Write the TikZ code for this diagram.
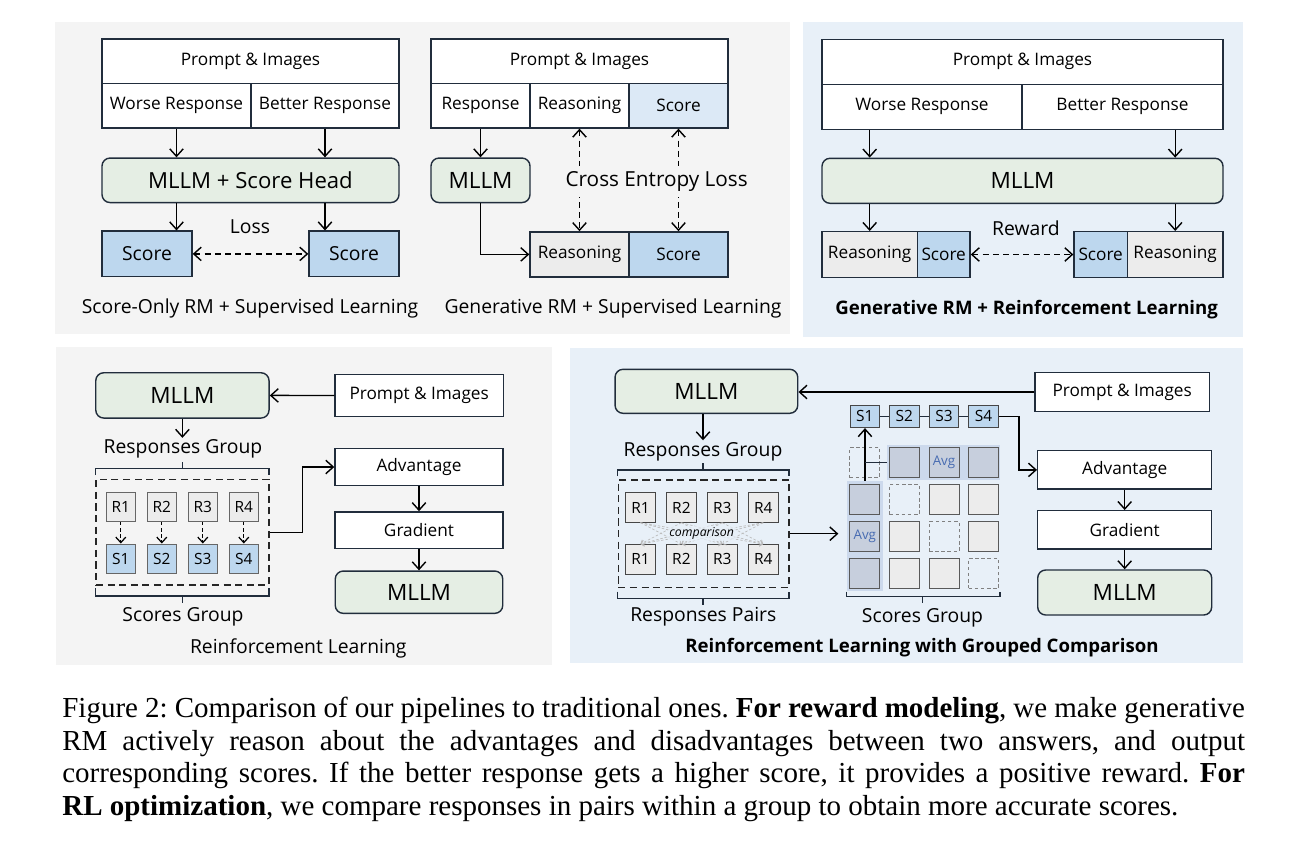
\documentclass[tikz,border=0pt]{standalone}
\usepackage{fontspec}
\setmainfont{Open Sans}
\newfontfamily\capfont{Liberation Serif}
\usetikzlibrary{arrows.meta}

\definecolor{panelgray}{RGB}{244,244,244}
\definecolor{panelblue}{RGB}{232,240,248}
\definecolor{boxline}{RGB}{33,45,60}
\definecolor{mllmgreen}{RGB}{229,238,228}
\definecolor{scoreblue}{RGB}{189,215,238}
\definecolor{scorelight}{RGB}{220,233,246}
\definecolor{reasongray}{RGB}{236,236,236}
\definecolor{bandblue}{RGB}{204,217,236}
\definecolor{cellblue}{RGB}{199,207,221}
\definecolor{avgblue}{RGB}{72,108,178}

\begin{document}
\begin{tikzpicture}[x=0.2mm, y=-0.2mm]
    % Define styles
    \tikzstyle{cell} = [rectangle, draw=boxline, line width=0.8pt, fill=white, inner sep=0pt, font=\fontsize{9.8}{11}\selectfont]
    \tikzstyle{model} = [rectangle, rounded corners=1.6mm, draw=boxline, line width=0.8pt, fill=mllmgreen, inner sep=0pt, font=\fontsize{12.8}{15}\selectfont]
    \tikzstyle{tag} = [inner sep=1pt, font=\fontsize{11}{13}\selectfont]
    \tikzstyle{heading} = [inner sep=0pt, font=\fontsize{11}{13}\selectfont]
    \tikzstyle{rbox} = [rectangle, draw=gray!80!black, line width=0.5pt, fill=reasongray, minimum width=5.9mm, minimum height=5.9mm, inner sep=0pt, font=\fontsize{8.8}{10}\selectfont]
    \tikzstyle{band} = [rectangle, fill=bandblue, inner sep=0pt]
    \tikzstyle{mcell} = [rectangle, draw=gray!70!black, line width=0.5pt, fill=reasongray, minimum size=6mm, inner sep=0pt]
    \tikzstyle{hcell} = [mcell, fill=cellblue]
    \tikzstyle{diag} = [mcell, dashed, dash pattern=on 2pt off 1.5pt, draw=gray, fill=none]
    \tikzstyle{avg} = [inner sep=0pt, text=avgblue, font=\fontsize{7.6}{9}\selectfont]
    \tikzstyle{arrow} = [line width=0.8pt, ->, >={Straight Barb[length=1.5mm, width=2.7mm]}]
    \tikzstyle{dasharrow} = [arrow, <->, dash pattern=on 3.4pt off 2.4pt]
    \tikzstyle{compare} = [gray!55, line width=0.35pt, dash pattern=on 1.5pt off 1pt, ->, >={Straight Barb[length=0.6mm, width=1.2mm]}]
    \tikzstyle{bracket} = [line width=0.85pt, draw=boxline]
    \tikzstyle{group} = [rectangle, draw=black!85, line width=0.9pt, dash pattern=on 4pt off 2.6pt, inner sep=0pt]

    \useasboundingbox (0,0) rectangle (1303,855);
    \fill[white] (0,0) rectangle (1303,855);

    % Panel backgrounds
    \fill[panelgray] (55,22) rectangle (790,334);
    \fill[panelblue] (803,22) rectangle (1243,337);
    \fill[panelgray] (56,347) rectangle (552,665);
    \fill[panelblue] (570,348) rectangle (1243,663);

    % Score-only RM
    \node (prompt1) [cell, minimum width=59.4mm, minimum height=8.9mm] at (250.5,61.2) {Prompt \& Images};
    \node (worse1) [cell, minimum width=29.8mm, minimum height=8.9mm] at (176.5,105.7) {Worse Response};
    \node (better1) [cell, minimum width=29.6mm, minimum height=8.9mm] at (325,105.7) {Better Response};
    \node (mllm1) [model, minimum width=59.4mm, minimum height=8.9mm, font=\fontsize{12.6}{15}\selectfont] at (250.5,180.3) {MLLM + Score Head};
    \node (scoreL1) [cell, fill=scoreblue, minimum width=18mm, minimum height=9.1mm, font=\fontsize{11}{13}\selectfont] at (147,253.9) {Score};
    \node (scoreR1) [cell, fill=scoreblue, minimum width=18mm, minimum height=9.1mm, font=\fontsize{11}{13}\selectfont] at (354,253.9) {Score};
    \node (loss1) [tag] at (250,227) {Loss};
    \node (cap1) [heading] at (250,308) {Score-Only RM + Supervised Learning};

    \draw [arrow] (worse1.south) -- (worse1.south |- mllm1.north);
    \draw [arrow] (better1.south) -- (better1.south |- mllm1.north);
    \draw [arrow] (worse1.south |- mllm1.south) -- (worse1.south |- scoreL1.north);
    \draw [arrow] (better1.south |- mllm1.south) -- (better1.south |- scoreR1.north);
    \draw [dasharrow] (scoreL1) -- (scoreR1);

    % Generative RM, supervised
    \node (prompt2) [cell, minimum width=59.4mm, minimum height=8.9mm] at (579.5,61.2) {Prompt \& Images};
    \node (resp2) [cell, minimum width=19.8mm, minimum height=8.9mm] at (480.5,105.7) {Response};
    \node (reason2) [cell, minimum width=19.8mm, minimum height=8.9mm] at (579.5,105.7) {Reasoning};
    \node (score2) [cell, fill=scorelight, minimum width=19.8mm, minimum height=8.9mm] at (678.5,105.7) {Score};
    \node (mllm2) [model, minimum width=19.8mm, minimum height=8.9mm] at (480.5,180.3) {MLLM};
    \node (reasonB2) [cell, fill=reasongray, minimum width=19.8mm, minimum height=9mm] at (579.5,254.4) {Reasoning};
    \node (scoreB2) [cell, fill=scoreblue, minimum width=19.8mm, minimum height=9mm] at (678.5,254.4) {Score};

    \draw [arrow] (resp2) -- (mllm2);
    \draw [arrow] (mllm2.south) |- (reasonB2.west);
    \draw [dasharrow] (reason2) -- (reasonB2);
    \draw [dasharrow] (score2) -- (scoreB2);
    \node (ce2) [tag, fill=panelgray, inner xsep=5pt, inner ysep=3pt, font=\fontsize{11.8}{14}\selectfont] at (656.7,181.7) {Cross Entropy Loss};
    \node (cap2) [heading] at (613,308) {Generative RM + Supervised Learning};

    % Generative RM, reinforcement
    \node (prompt3) [cell, minimum width=80.2mm, minimum height=9mm] at (1022.5,61.7) {Prompt \& Images};
    \node (worse3) [cell, minimum width=40mm, minimum height=9mm] at (922,106.8) {Worse Response};
    \node (better3) [cell, minimum width=40.2mm, minimum height=9mm] at (1122.5,106.8) {Better Response};
    \node (mllm3) [model, minimum width=80.2mm, minimum height=9mm] at (1022.5,180.8) {MLLM};
    \node (reasonL3) [cell, fill=reasongray, minimum width=19.06mm, minimum height=9.12mm] at (869.7,254.5) {Reasoning};
    \node (scoreL3) [cell, fill=scoreblue, minimum width=10.54mm, minimum height=9.12mm] at (943.7,254.5) {Score};
    \node (scoreR3) [cell, fill=scoreblue, minimum width=10.66mm, minimum height=9.12mm] at (1100.7,254.5) {Score};
    \node (reasonR3) [cell, fill=reasongray, minimum width=19.14mm, minimum height=9.12mm] at (1175.2,254.5) {Reasoning};
    \node (reward3) [tag] at (1026,228.3) {Reward};
    \node (cap3) [heading, font=\fontsize{10.6}{13}\selectfont\bfseries] at (1026.7,310) {Generative RM + Reinforcement Learning};

    \draw [arrow] (reasonL3.north |- worse3.south) -- (reasonL3.north |- mllm3.north);
    \draw [arrow] (reasonR3.north |- better3.south) -- (reasonR3.north |- mllm3.north);
    \draw [arrow] (reasonL3.north |- mllm3.south) -- (reasonL3.north);
    \draw [arrow] (reasonR3.north |- mllm3.south) -- (reasonR3.north);
    \draw [dasharrow] (scoreL3) -- (scoreR3);

    % Reinforcement learning
    \node (mllm4) [model, minimum width=34.66mm, minimum height=9.06mm] at (182.4,395.4) {MLLM};
    \node (prompt4) [cell, minimum width=33.66mm, minimum height=8.48mm] at (419.2,395.5) {Prompt \& Images};
    \node (rg4) [tag] at (183,449.3) {Responses Group};
    \node (grp4) [group, minimum width=34.6mm, minimum height=21.1mm] at (182.5,532.2) {};
    \foreach \i/\x in {1/120.8, 2/161.8, 3/202.8, 4/243.8} {
        \node (r4\i) [rbox] at (\x,506.7) {R\i};
        \node (s4\i) [rbox, fill=scoreblue] at (\x,558.7) {S\i};
        \draw [arrow, line width=0.7pt, dash pattern=on 2pt off 1.5pt, >={Straight Barb[length=1.1mm, width=2mm]}] (r4\i) -- (s4\i);
    }
    \draw [bracket] (95.7,475) -- (95.7,468.3) -- (269,468.3) -- (269,475) (182.4,468.3) -- (182.4,461.7);
    \draw [bracket] (95.7,588) -- (95.7,596) -- (269,596) -- (269,588) (182.4,596) -- (182.4,603);
    \node (sg4) [tag] at (183,616.7) {Scores Group};
    \node (adv4) [cell, minimum width=33.6mm, minimum height=7.32mm] at (419,467) {Advantage};
    \node (grad4) [cell, minimum width=33.6mm, minimum height=7.32mm] at (419,530.2) {Gradient};
    \node (mllm4b) [model, minimum width=33.5mm, minimum height=8.46mm] at (419,592.2) {MLLM};
    \node (cap4) [heading] at (298.3,648.3) {Reinforcement Learning};

    \draw [arrow] (prompt4) -- (mllm4);
    \draw [arrow] (mllm4.south) -- (mllm4.south |- rg4.north);
    \draw [arrow] (grp4.east) -- ++(33,0) |- (adv4.west);
    \draw [arrow] (adv4) -- (grad4);
    \draw [arrow] (grad4) -- (mllm4b);

    % Reinforcement learning with grouped comparison
    \node (mllm5) [model, minimum width=36.54mm, minimum height=8.8mm] at (706.4,391.3) {MLLM};
    \node (prompt5) [cell, minimum width=34.86mm, minimum height=7.88mm] at (1122.2,392) {Prompt \& Images};
    \node (rg5) [tag] at (703,451.7) {Responses Group};
    \node (grp5) [group, minimum width=34.14mm, minimum height=21.46mm] at (703.7,533.7) {};
    \foreach \i/\x in {1/640.5, 2/681.4, 3/722.3, 4/763.2} {
        \node (rt\i) [rbox, draw=gray!55!black] at (\x,507.5) {R\i};
        \node (rb\i) [rbox, draw=gray!55!black] at (\x,559.2) {R\i};
    }
    \foreach \i in {1,...,4}
        \foreach \j in {1,...,4} {
            \ifnum\i=\j\else
                \draw [compare] (rt\i.south) -- (rb\j.north);
            \fi
        }
    \node (cmp5) [inner sep=1pt, fill=panelblue, fill opacity=0.75, text opacity=1, font=\fontsize{7}{8}\selectfont\itshape] at (701.7,533.5) {comparison};
    \draw [bracket] (617.3,476) -- (617.3,470) -- (789,470) -- (789,476) (703,470) -- (703,463);
    \draw [bracket] (617.3,591.7) -- (617.3,598.3) -- (789,598.3) -- (789,591.7) (703,598.3) -- (703,605);
    \node (rp5) [tag] at (703.3,616.7) {Responses Pairs};

    % score matrix
    \node (rowband) [band, minimum width=22.54mm, minimum height=7mm] at (943.7,462.5) {};
    \node (colband) [band, minimum width=7.32mm, minimum height=22mm] at (865,536) {};
    \foreach \i in {1,...,4}
        \foreach \j in {1,...,4} {
            \ifnum\i=\j
                \node (m\i\j) [diag] at ({864.8+39.6*(\j-1)},{462.7+36.9*(\i-1)}) {};
            \else\ifnum\i=1
                \node (m\i\j) [hcell] at ({864.8+39.6*(\j-1)},{462.7+36.9*(\i-1)}) {};
            \else\ifnum\j=1
                \node (m\i\j) [hcell] at ({864.8+39.6*(\j-1)},{462.7+36.9*(\i-1)}) {};
            \else
                \node (m\i\j) [mcell] at ({864.8+39.6*(\j-1)},{462.7+36.9*(\i-1)}) {};
            \fi\fi\fi
        }
    \node (avg13) [avg] at (m13) {Avg};
    \node (avg31) [avg] at (m31) {Avg};
    \foreach \j in {1,...,4}
        \node (s5\j) [rbox, draw=gray!55!black, fill=scoreblue, minimum height=4.54mm] at ({864.8+39.6*(\j-1)},416.3) {S\j};
    \foreach \j/\k in {1/2, 2/3, 3/4}
        \draw [line width=0.7pt, boxline] (s5\j) -- (s5\k);
    \draw [bracket] (846.7,591.7) -- (846.7,596.7) -- (1000,596.7) -- (1000,591.7) (922.7,596.7) -- (922.7,603.3);
    \node (sg5) [tag] at (922.5,618.3) {Scores Group};

    \node (adv5) [cell, minimum width=34.8mm, minimum height=7.66mm] at (1124.7,469.9) {Advantage};
    \node (grad5) [cell, minimum width=34.8mm, minimum height=7.66mm] at (1124.7,529.9) {Gradient};
    \node (mllm5b) [model, minimum width=34.8mm, minimum height=9mm] at (1124.7,592.5) {MLLM};
    \node (cap5) [heading, font=\fontsize{10.6}{13}\selectfont\bfseries] at (922,648) {Reinforcement Learning with Grouped Comparison};

    \draw [arrow] (prompt5.west) -- (prompt5.west -| mllm5.east);
    \draw [arrow] (rg5.north |- mllm5.south) -- (rg5.north);
    \draw [arrow, shorten >=1.6mm] (grp5.east) -- (grp5.east -| colband.west);
    \draw [arrow] (colband.north) -- (colband.north |- s51.south);
    \draw [line width=0.8pt, boxline] (rowband.west) -- (rowband.west -| colband.north);
    \draw [arrow] (s54.east) -- ++(20,0) |- (adv5.west);
    \draw [arrow] (adv5) -- (grad5);
    \draw [arrow] (grad5) -- (mllm5b);

    % Figure caption
    \node (caption) [anchor=north west, inner sep=0pt, text width=673pt, align=justify, font=\capfont\fontsize{16.5}{18.5}\selectfont\frenchspacing] at (62,697) {Figure 2: Comparison of our pipelines to traditional ones. \textbf{For reward modeling}, we make generative\linebreak
    RM actively reason about the advantages and disadvantages between two answers, and output\linebreak
    corresponding scores. If the better response gets a higher score, it provides a positive reward. \textbf{For}\linebreak
    \textbf{RL optimization}, we compare responses in pairs within a group to obtain more accurate scores.};
\end{tikzpicture}
\end{document}
